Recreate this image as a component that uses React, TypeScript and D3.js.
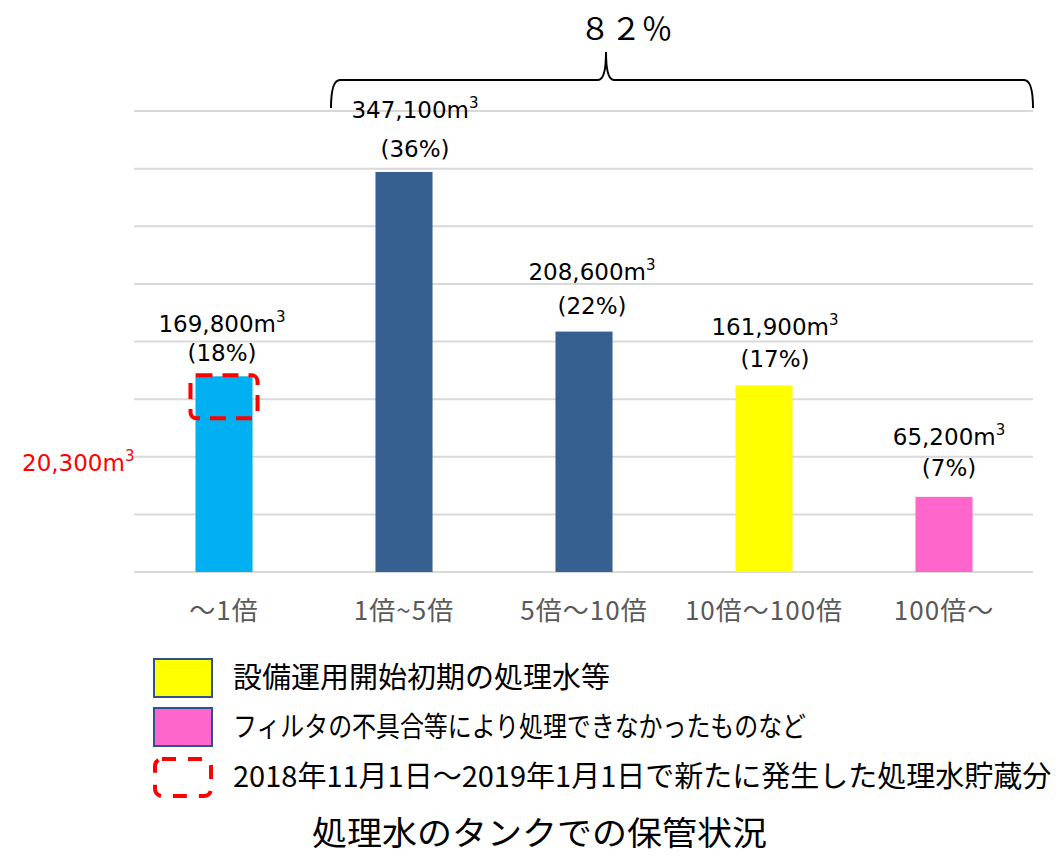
import React from "react";
import * as d3 from "d3";

const categories = ["～1倍", "1倍~5倍", "5倍～10倍", "10倍～100倍", "100倍～"];
const volumes = [169800, 347100, 208600, 161900, 65200];
const percents = [18, 36, 22, 17, 7];
const barColors = ["#00B0F0", "#35608F", "#35608F", "#FFFF00", "#FF66CC"];
const gridTicks = [0, 50000, 100000, 150000, 200000, 250000, 300000, 350000, 400000];
const newlyStored = 20300;
const bracketLabel = "８２％";
const legendItems = [
  { color: "#FFFF00", label: "設備運用開始初期の処理水等" },
  { color: "#FF66CC", label: "フィルタの不具合等により処理できなかったものなど" },
];
const dashedLegendLabel = "2018年11月1日～2019年1月1日で新たに発生した処理水貯蔵分";
const title = "処理水のタンクでの保管状況";

// layout: manual label nudges (px) as in the original slide
const labelDx = [-2, 11, 8, 11, 5];
const labelGap1 = [52, 62, 60, 58, 60];
const labelGap2 = [22, 22, 25, 25, 28];

const W = 1061;
const H = 858;
const FONT = "'Noto Sans CJK JP', 'Noto Sans', sans-serif";
const NUMFONT = "'DejaVu Sans', 'Noto Sans CJK JP', sans-serif";

export default function App() {
  const x = d3
    .scaleBand<string>()
    .domain(categories)
    .range([134, 1034])
    .paddingInner(0.683)
    .paddingOuter(0.3415);
  const y = d3.scaleLinear().domain([0, 400000]).range([572, 111]);
  const fmt = d3.format(",");

  const b0 = categories[0];
  const boxX = (x(b0) as number) - 5;
  const boxW = x.bandwidth() + 10;
  const boxTop = y(volumes[0]) - 1;
  const boxH = 43;

  return (
    <svg
      width={W}
      height={H}
      style={{ position: "absolute", left: 0, top: 0, background: "#fff" }}
      fontFamily={FONT}
    >
      <rect x={0} y={0} width={W} height={H} fill="#fff" />
      {gridTicks.map((t) => (
        <line key={t} x1={134} x2={1033} y1={y(t)} y2={y(t)} stroke="#D9D9D9" strokeWidth={2} />
      ))}
      {categories.map((c, i) => (
        <rect
          key={c}
          x={x(c)}
          y={y(volumes[i])}
          width={x.bandwidth()}
          height={y(0) - y(volumes[i])}
          fill={barColors[i]}
        />
      ))}
      {categories.map((c, i) => {
        const cx = (x(c) as number) + x.bandwidth() / 2 + labelDx[i];
        const top = y(volumes[i]);
        return (
          <g key={"lab" + c} fill="#000" fontSize={23} textAnchor="middle" fontFamily={NUMFONT}>
            <text x={cx} y={top - labelGap1[i] + 8}>
              {fmt(volumes[i])}m
              <tspan fontSize={15} dy={-10}>3</tspan>
            </text>
            <text x={cx} y={top - labelGap2[i] + 7}>({percents[i]}%)</text>
          </g>
        );
      })}
      {categories.map((c) => (
        <text
          key={"ax" + c}
          x={(x(c) as number) + x.bandwidth() / 2}
          y={620}
          textAnchor="middle"
          fontSize={26}
          letterSpacing={1}
          fill="#595959"
        >
          {c}
        </text>
      ))}
      {/* dashed box for newly stored */}
      <rect
        x={boxX}
        y={boxTop}
        width={boxW}
        height={boxH}
        rx={6}
        fill="none"
        stroke="#FF0000"
        strokeWidth={4}
        strokeDasharray="16 10"
      />
      <text x={22} y={471} fontSize={23} fill="#FF0000" fontFamily={NUMFONT}>
        {fmt(newlyStored)}m
        <tspan fontSize={15} dy={-10}>3</tspan>
      </text>
      {/* bracket */}
      <path
        d="M331,108 Q331,80 340,80 L598,80 Q606,80 606,52 Q606,80 614,80 L1024,80 Q1033,80 1033,108"
        fill="none"
        stroke="#000"
        strokeWidth={2}
      />
      <text x={626} y={40} textAnchor="middle" fontSize={31} fill="#000">
        {bracketLabel}
      </text>
      {/* legend */}
      {legendItems.map((l, i) => (
        <g key={l.label}>
          <rect x={154} y={659 + i * 49} width={58} height={38} fill={l.color} stroke="#2F528F" strokeWidth={2} />
          <text
            x={233}
            y={688 + i * 49}
            fontSize={i === 0 ? 29 : 28}
            fill="#000"
            {...(i === 1 ? { textLength: 573, lengthAdjust: "spacingAndGlyphs" } : {})}
          >
            {l.label}
          </text>
        </g>
      ))}
      <rect
        x={155}
        y={759}
        width={56}
        height={37}
        rx={7}
        fill="none"
        stroke="#FF0000"
        strokeWidth={4}
        strokeDasharray="14 12"
      />
      <text x={233} y={787} fontSize={29} fill="#000">
        {dashedLegendLabel}
      </text>
      <text
        x={312}
        y={845}
        fontSize={33}
        fill="#000"
        textLength={455}
        lengthAdjust="spacingAndGlyphs"
      >
        {title}
      </text>
    </svg>
  );
}
